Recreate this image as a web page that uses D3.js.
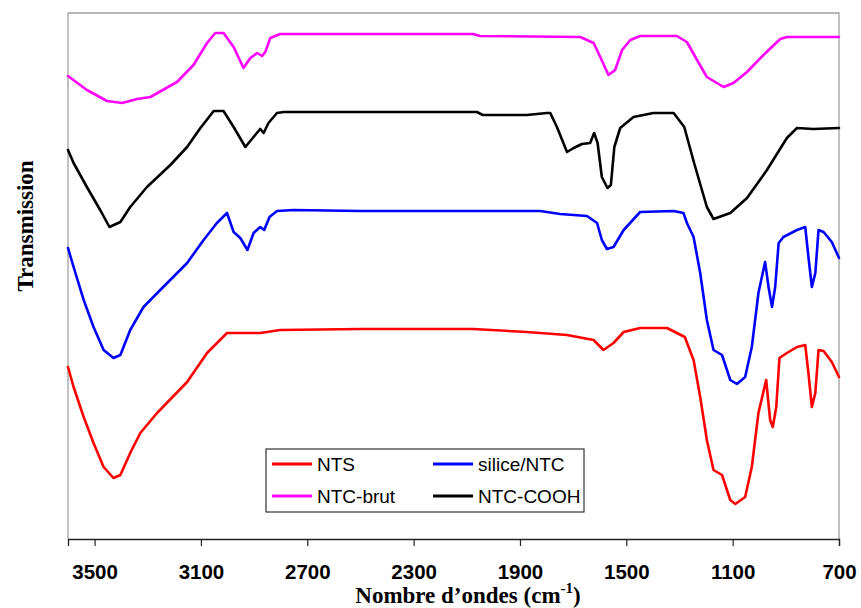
<!DOCTYPE html>
<html>
<head>
<meta charset="utf-8">
<script src="https://cdn.jsdelivr.net/npm/d3@7"></script>
<style>
  body { margin: 0; background: #fff; }
</style>
</head>
<body>
<div id="chart"></div>
<script>
// nombre d'onde (cm-1) / transmission (u.a., courbes décalées)
let ntcBrutWn = [3600, 3529, 3453, 3397, 3340, 3290, 3190, 3128, 3077, 3046, 3015, 2977, 2940, 2914, 2889, 2870, 2858, 2839, 2802, 2501, 2076, 2050, 1673, 1623, 1598, 1567, 1542, 1516, 1485, 1448, 1310, 1272, 1234, 1197, 1134, 1097, 1046, 984, 921, 896, 700];
let ntcBrutT  = [463, 449, 438, 436, 440, 442, 457, 474, 496, 506, 506, 492, 471, 481, 486, 483, 487, 501, 505, 505, 505, 503, 502, 496, 482, 464, 469, 489, 499, 503, 503, 497, 479, 462, 452, 456, 467, 484, 500, 502, 502];

let ntcCoohWn = [3600, 3579, 3529, 3479, 3444, 3403, 3366, 3303, 3215, 3152, 3102, 3052, 3015, 2977, 2933, 2902, 2877, 2864, 2846, 2814, 2789, 2501, 2062, 2040, 1874, 1799, 1786, 1761, 1723, 1698, 1667, 1636, 1621, 1608, 1592, 1571, 1558, 1545, 1523, 1473, 1398, 1322, 1282, 1245, 1197, 1172, 1109, 1046, 971, 896, 858, 796, 700];
let ntcCoohT  = [389, 376, 352, 329, 312, 317, 332, 352, 374, 392, 411, 428, 428, 412, 392, 402, 410, 406, 416, 426, 427, 427, 427, 424, 424, 426, 426, 412, 387, 391, 395, 396, 406, 396, 362, 351, 354, 392, 411, 422, 426, 426, 412, 376, 332, 320, 326, 341, 369, 401, 411, 410, 411];

let siliceWn = [3600, 3579, 3541, 3504, 3466, 3429, 3403, 3366, 3316, 3253, 3152, 3090, 3040, 3002, 2977, 2952, 2925, 2902, 2877, 2862, 2842, 2814, 2752, 2501, 1824, 1749, 1648, 1610, 1592, 1573, 1548, 1510, 1448, 1322, 1285, 1272, 1247, 1222, 1197, 1172, 1140, 1109, 1084, 1053, 1028, 1003, 978, 965, 952, 940, 927, 909, 858, 827, 815, 802, 789, 777, 758, 727, 700];
let siliceT  = [291, 272, 239, 212, 189, 181, 184, 209, 232, 249, 276, 299, 316, 326, 307, 301, 289, 306, 312, 309, 322, 328, 329, 328, 328, 325, 323, 316, 299, 290, 292, 309, 327, 328, 326, 316, 302, 266, 219, 189, 184, 159, 155, 162, 192, 246, 277, 252, 232, 252, 296, 302, 309, 312, 282, 252, 266, 309, 307, 297, 281];

let ntsWn = [3600, 3579, 3541, 3504, 3466, 3429, 3403, 3366, 3328, 3265, 3152, 3077, 3002, 2877, 2802, 2501, 2076, 1874, 1723, 1623, 1586, 1548, 1510, 1448, 1347, 1280, 1247, 1222, 1197, 1172, 1140, 1109, 1090, 1053, 1028, 1003, 974, 959, 949, 936, 924, 896, 858, 827, 815, 802, 789, 777, 758, 727, 700];
let ntsT  = [172, 152, 122, 96, 72, 61, 64, 86, 106, 126, 157, 186, 206, 206, 209, 210, 210, 207, 204, 199, 189, 196, 207, 211, 211, 202, 179, 142, 99, 69, 64, 39, 35, 42, 72, 126, 159, 119, 112, 132, 181, 186, 192, 194, 166, 132, 146, 189, 188, 177, 162];

let xTicks = [3500, 3100, 2700, 2300, 1900, 1500, 1100, 700];

let series = [
    { name: "NTS", color: "#ff0000", wn: ntsWn, t: ntsT },
    { name: "silice/NTC", color: "#0000ff", wn: siliceWn, t: siliceT },
    { name: "NTC-brut", color: "#ff00ff", wn: ntcBrutWn, t: ntcBrutT },
    { name: "NTC-COOH", color: "#000000", wn: ntcCoohWn, t: ntcCoohT }
];

let fullWidth = 861, fullHeight = 608;
let margin = { top: 13, right: 22, bottom: 69, left: 68 };
let width = fullWidth - margin.left - margin.right;
let height = fullHeight - margin.top - margin.bottom;

let root = d3.select("#chart")
    .append("svg")
    .attr("width", fullWidth)
    .attr("height", fullHeight);

let svg = root.append("g")
    .attr("transform", `translate(${margin.left},${margin.top})`);

let x = d3.scaleLinear()
    .domain([3600, 700])
    .range([0, width]);

let y = d3.scaleLinear()
    .domain([0, 526])
    .range([height, 0]);

// cadre gris
svg.append("path")
    .attr("d", `M0,${height}V0H${width}V${height}`)
    .attr("fill", "none")
    .attr("stroke", "#a0a0a0")
    .attr("stroke-width", 1.3);

let line = d3.line()
    .x(d => x(d[0]))
    .y(d => y(d[1]));

series.forEach(s => {
    svg.append("path")
        .datum(s.wn.map((w, i) => [w, s.t[i]]))
        .attr("fill", "none")
        .attr("stroke", s.color)
        .attr("stroke-width", 2.6)
        .attr("stroke-linejoin", "round")
        .attr("stroke-linecap", "round")
        .attr("d", line);
});

let xAxis = svg.append("g")
    .attr("transform", `translate(0,${height})`)
    .call(d3.axisBottom(x).tickValues(xTicks).tickSize(7).tickPadding(18).tickFormat(d3.format("d")));

xAxis.select(".domain").attr("stroke", "#222").attr("stroke-width", 1.3);
xAxis.selectAll(".tick line").attr("stroke", "#222").attr("stroke-width", 1.2);
xAxis.selectAll("text")
    .style("font-family", "'Liberation Sans', Arial, sans-serif")
    .style("font-size", "20.5px")
    .style("font-weight", "bold")
    .style("fill", "#000");

// titres des axes
let xTitle = root.append("text")
    .attr("x", 468)
    .attr("y", 602.5)
    .attr("text-anchor", "middle")
    .style("font-family", "'Liberation Serif', 'Times New Roman', serif")
    .style("font-size", "23px")
    .style("font-weight", "bold");
xTitle.append("tspan").text("Nombre d\u2019ondes (cm");
xTitle.append("tspan").attr("dy", -10).style("font-size", "15px").text("-1");
xTitle.append("tspan").attr("dy", 10).text(")");

root.append("text")
    .attr("transform", "translate(33,226) rotate(-90)")
    .attr("text-anchor", "middle")
    .style("font-family", "'Liberation Serif', 'Times New Roman', serif")
    .style("font-size", "23px")
    .style("font-weight", "bold")
    .text("Transmission");

// légende
let legend = root.append("g").attr("transform", "translate(266,449)");
legend.append("rect")
    .attr("width", 318)
    .attr("height", 63)
    .attr("fill", "#fff")
    .attr("stroke", "#333")
    .attr("stroke-width", 1.2);

let legendPos = [[6, 15], [167, 15], [6, 47], [167, 47]];
series.forEach((s, i) => {
    let g = legend.append("g")
        .attr("transform", `translate(${legendPos[i][0]},${legendPos[i][1]})`);
    g.append("line")
        .attr("x1", 0).attr("x2", 40)
        .attr("stroke", s.color)
        .attr("stroke-width", 3);
    g.append("text")
        .attr("x", 45)
        .attr("dy", "0.36em")
        .style("font-family", "'Liberation Sans', Arial, sans-serif")
        .style("font-size", "19px")
        .text(s.name);
});
</script>
</body>
</html>
